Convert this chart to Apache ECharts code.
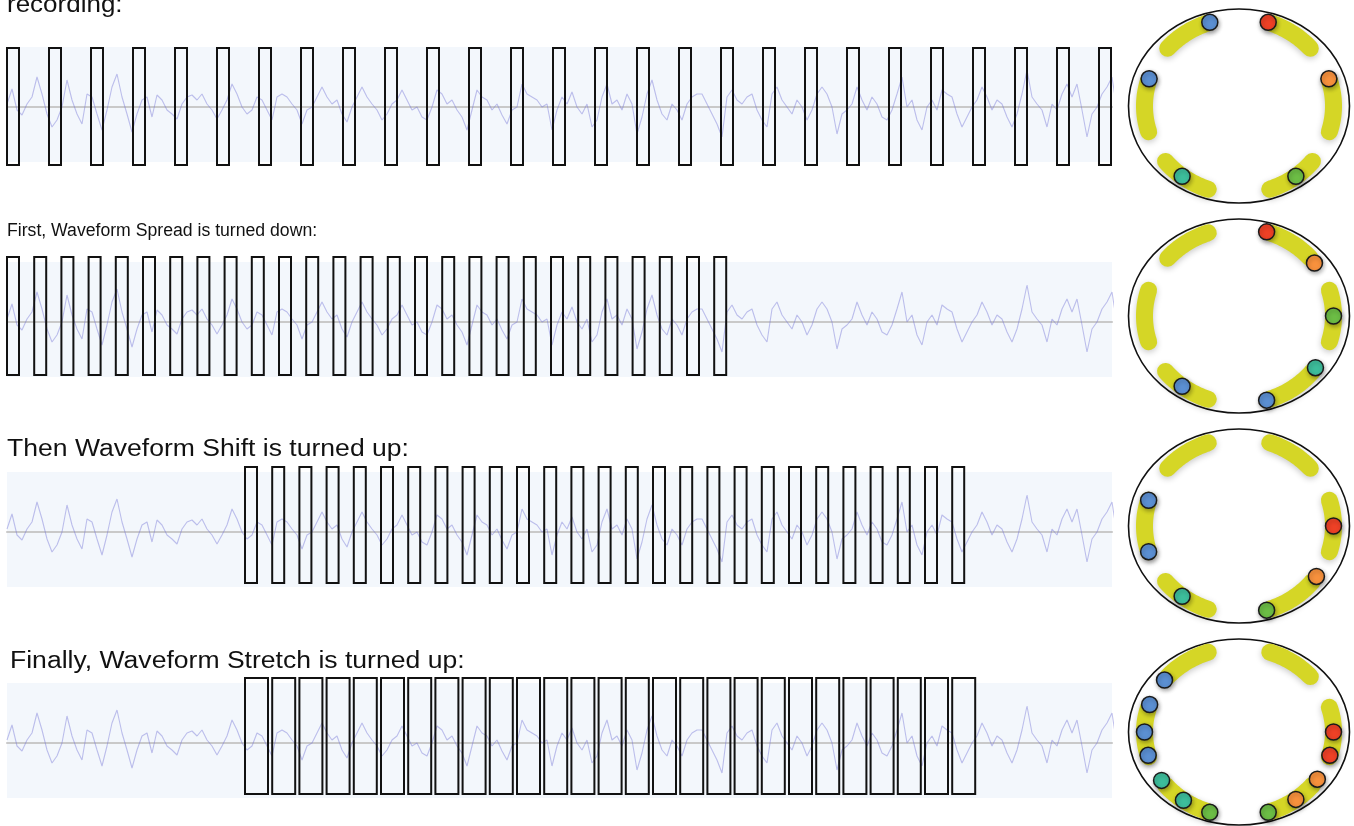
<!DOCTYPE html>
<html>
<head>
<meta charset="utf-8">
<script src="https://cdn.jsdelivr.net/npm/echarts@6/dist/echarts.min.js"></script>
<style>
  html, body { margin: 0; padding: 0; background: #fff; }
  #chart { width: 1354px; height: 826px; }
</style>
</head>
<body>
<div id="chart"></div>
<script>
// waveform: offset from the zero line, one sample every waveStep time units
const waveStep = 5;
const wave = [
  3, 18, -3, -8, 3, 10, 30, 13, -7, -20, -13, 0, 27, 7, -7, -17, 13, 10, -7, -23,
  -3, 20, 33, 10, -7, -25, -7, 7, 10, -10, 12, 7, -3, -7, -12, 3, 10, 12, 7, 13,
  3, -3, -12, -3, 7, 23, 13, 0, -7, -3, 10, 7, -3, -13, 10, 13,
  10, 3, -3, -17, -3, 0, 10, 20, 10, 3, 7, -7, -15, 0, 10, 20, 10, 3, -3, -13,
  -7, 3, 7, 17, 7, -3, 0, -10, -13, 0, 17, 13, 3, 7, -3, -10, -23, -3, 17, 10,
  7, -3, 3, -8, -17, -3, 0, 23, 13, 10, 7, 0, 3, -23, -3, 10,
  3, 15, 0, -7, 3, -20, -13, 10, 23, 3, 7, -3, 13, 3, -27, -10, 13, 27, 7, -7,
  -13, 3, -3, -13, 3, 10, 13, 13, 3, -7, -17, -30, 10, 17, 7, 3, 10, 13, -3, -13,
  -20, 13, 20, 7, 0, -7, 7, 0, -13, -3, 13, 20, 13, 0, -27, -7,
  -3, 3, 20, 7, -3, 10, 3, -10, -13, -3, 13, 30, 0, 7, -13, -23, 0, 7, -3, 17,
  13, 10, -7, -20, -10, 0, 7, 20, 10, -3, 7, 3, -10, -20, -7, 13, 37, 10, 3, -3,
  -20, 3, -3, 13, 23, 10, 23, -3, -30, -7, 0, 13, 20, 30, -3
];

const rowLabels = [
  'recording:',
  'First, Waveform Spread is turned down:',
  'Then Waveform Shift is turned up:',
  'Finally, Waveform Stretch is turned up:'
];

// analysis windows per row: spacing, start offset, width (time units)
const windowCount = 27;
const windowSpread = [42, 27.2, 27.2, 27.2];
const windowShift = [0, 0, 238, 238];
const windowStretch = [12, 12, 12, 23];

// yellow bands on each ring, [start, end] in degrees (0 = right, ccw)
const ringArcs = [[-17, 17], [41, 71], [109, 139], [163, 197], [219, 251], [289, 321]];

// channel dots on each ring, angle in degrees
const dotAngles = [
  [108, 72, 18, 162, 233, 307],
  [73, 37, 0, 324, 287, 233],
  [163, 197, 233, 287, 325, 0],
  [142, 161, 180, 196, 215, 234, 252, 288, 307, 326, 344, 0]
];
const dotColors = [
  ['blue', 'red', 'orange', 'blue', 'teal', 'green'],
  ['red', 'orange', 'green', 'teal', 'blue', 'blue'],
  ['blue', 'blue', 'teal', 'green', 'orange', 'red'],
  ['blue', 'blue', 'blue', 'blue', 'teal', 'teal', 'green', 'green', 'orange', 'orange', 'red', 'red']
];

const palette = {
  blue: '#5b8fd2', red: '#ee4126', orange: '#f7913d', green: '#6cbd45', teal: '#3dbd9b'
};

// layout
const rowTop = [47, 262, 472, 683];
const winTop = [59, 65, 65, 65];
const winBottom = [-58, -53, -51, -51];
const ringCx = 1239;
const ringCy = [106, 316, 526, 736];
const RX = 111.5, RY = 98;
const ARC_RX = 94.5, ARC_RY = 88;
const labelY = [6, 231, 450, 662];
const labelX = [7, 7, 7, 10];
const labelSize = [23, 18, 23.5, 23.5];
const labelScale = [1.13, 0.98, 1.13, 1.13];

const chart = echarts.init(document.getElementById('chart'));

const grid = [], xAxis = [], yAxis = [], series = [];

for (let r = 0; r < 4; r++) {
  // waveform panel
  grid.push({
    left: 7, top: rowTop[r], width: 1105, height: 115,
    show: true, backgroundColor: '#f3f7fc', borderWidth: 0
  });
  xAxis.push({
    gridIndex: 2 * r, type: 'value', min: 0, max: 1105,
    axisLine: { show: true, onZero: true, lineStyle: { color: '#c9c9c9', width: 2 } },
    axisTick: { show: false }, axisLabel: { show: false }, splitLine: { show: false }
  });
  yAxis.push({ gridIndex: 2 * r, type: 'value', min: -55, max: 60, show: false });

  // ring
  grid.push({ left: ringCx - RX, top: ringCy[r] - RY, width: 2 * RX, height: 2 * RY });
  xAxis.push({ gridIndex: 2 * r + 1, type: 'value', min: -RX, max: RX, show: false });
  yAxis.push({ gridIndex: 2 * r + 1, type: 'value', min: -RY, max: RY, show: false });

  series.push({
    type: 'line', xAxisIndex: 2 * r, yAxisIndex: 2 * r,
    data: wave.map((v, i) => [i * waveStep, v]),
    showSymbol: false, silent: true, clip: true,
    lineStyle: { color: 'rgba(120,120,215,0.45)', width: 1.1 }
  });

  const windows = [];
  for (let k = 0; k < windowCount; k++) {
    const s = windowShift[r] + k * windowSpread[r];
    windows.push([s, s + windowStretch[r]]);
  }
  series.push({
    type: 'custom', xAxisIndex: 2 * r, yAxisIndex: 2 * r, z: 5,
    data: windows, encode: { x: [0, 1] }, silent: true,
    renderItem: (params, api) => {
      const a = api.coord([api.value(0), winTop[r]]);
      const b = api.coord([api.value(1), winBottom[r]]);
      return {
        type: 'rect',
        shape: { x: a[0], y: a[1], width: b[0] - a[0], height: b[1] - a[1] },
        style: { fill: null, stroke: '#111', lineWidth: 2 }
      };
    }
  });

  // ring outline
  series.push({
    type: 'custom', xAxisIndex: 2 * r + 1, yAxisIndex: 2 * r + 1, z: 3,
    data: [[0, 0]], silent: true,
    renderItem: (params, api) => {
      const c = api.coord([0, 0]);
      const s = api.size([RX - 1, RY - 1]);
      return {
        type: 'ellipse',
        shape: { cx: c[0], cy: c[1], rx: s[0], ry: s[1] },
        style: { fill: null, stroke: '#111', lineWidth: 1.6 }
      };
    }
  });

  // yellow bands
  series.push({
    type: 'custom', xAxisIndex: 2 * r + 1, yAxisIndex: 2 * r + 1, z: 4,
    data: ringArcs, silent: true,
    renderItem: (params, api) => {
      const a0 = api.value(0), a1 = api.value(1);
      const pts = [];
      for (let a = a0; a <= a1 + 0.01; a += 1) {
        const t = a * Math.PI / 180;
        pts.push(api.coord([ARC_RX * Math.cos(t), ARC_RY * Math.sin(t)]));
      }
      return {
        type: 'polyline',
        shape: { points: pts },
        style: {
          fill: null, stroke: '#d5d626', lineWidth: 17, lineCap: 'round',
          shadowBlur: 6, shadowColor: 'rgba(0,0,0,0.22)', shadowOffsetY: 2
        }
      };
    }
  });

  // dots
  series.push({
    type: 'scatter', xAxisIndex: 2 * r + 1, yAxisIndex: 2 * r + 1, z: 6,
    symbolSize: 16, silent: true,
    data: dotAngles[r].map((deg, i) => {
      const t = deg * Math.PI / 180;
      return {
        value: [ARC_RX * Math.cos(t), ARC_RY * Math.sin(t)],
        itemStyle: { color: palette[dotColors[r][i]] }
      };
    }),
    itemStyle: {
      borderColor: '#1a1a1a', borderWidth: 1.5, opacity: 1,
      shadowBlur: 4, shadowColor: 'rgba(0,0,0,0.3)', shadowOffsetX: 1, shadowOffsetY: 2
    }
  });
}

chart.setOption({
  animation: false,
  backgroundColor: '#fff',
  grid: grid,
  xAxis: xAxis,
  yAxis: yAxis,
  series: series,
  graphic: rowLabels.map((t, i) => ({
    type: 'text', x: labelX[i], y: labelY[i], scaleX: labelScale[i], z: 10, silent: true,
    style: {
      text: t, fill: '#111',
      font: labelSize[i] + 'px "Liberation Sans", Arial, sans-serif',
      verticalAlign: 'middle', textVerticalAlign: 'middle'
    }
  }))
});
</script>
</body>
</html>
